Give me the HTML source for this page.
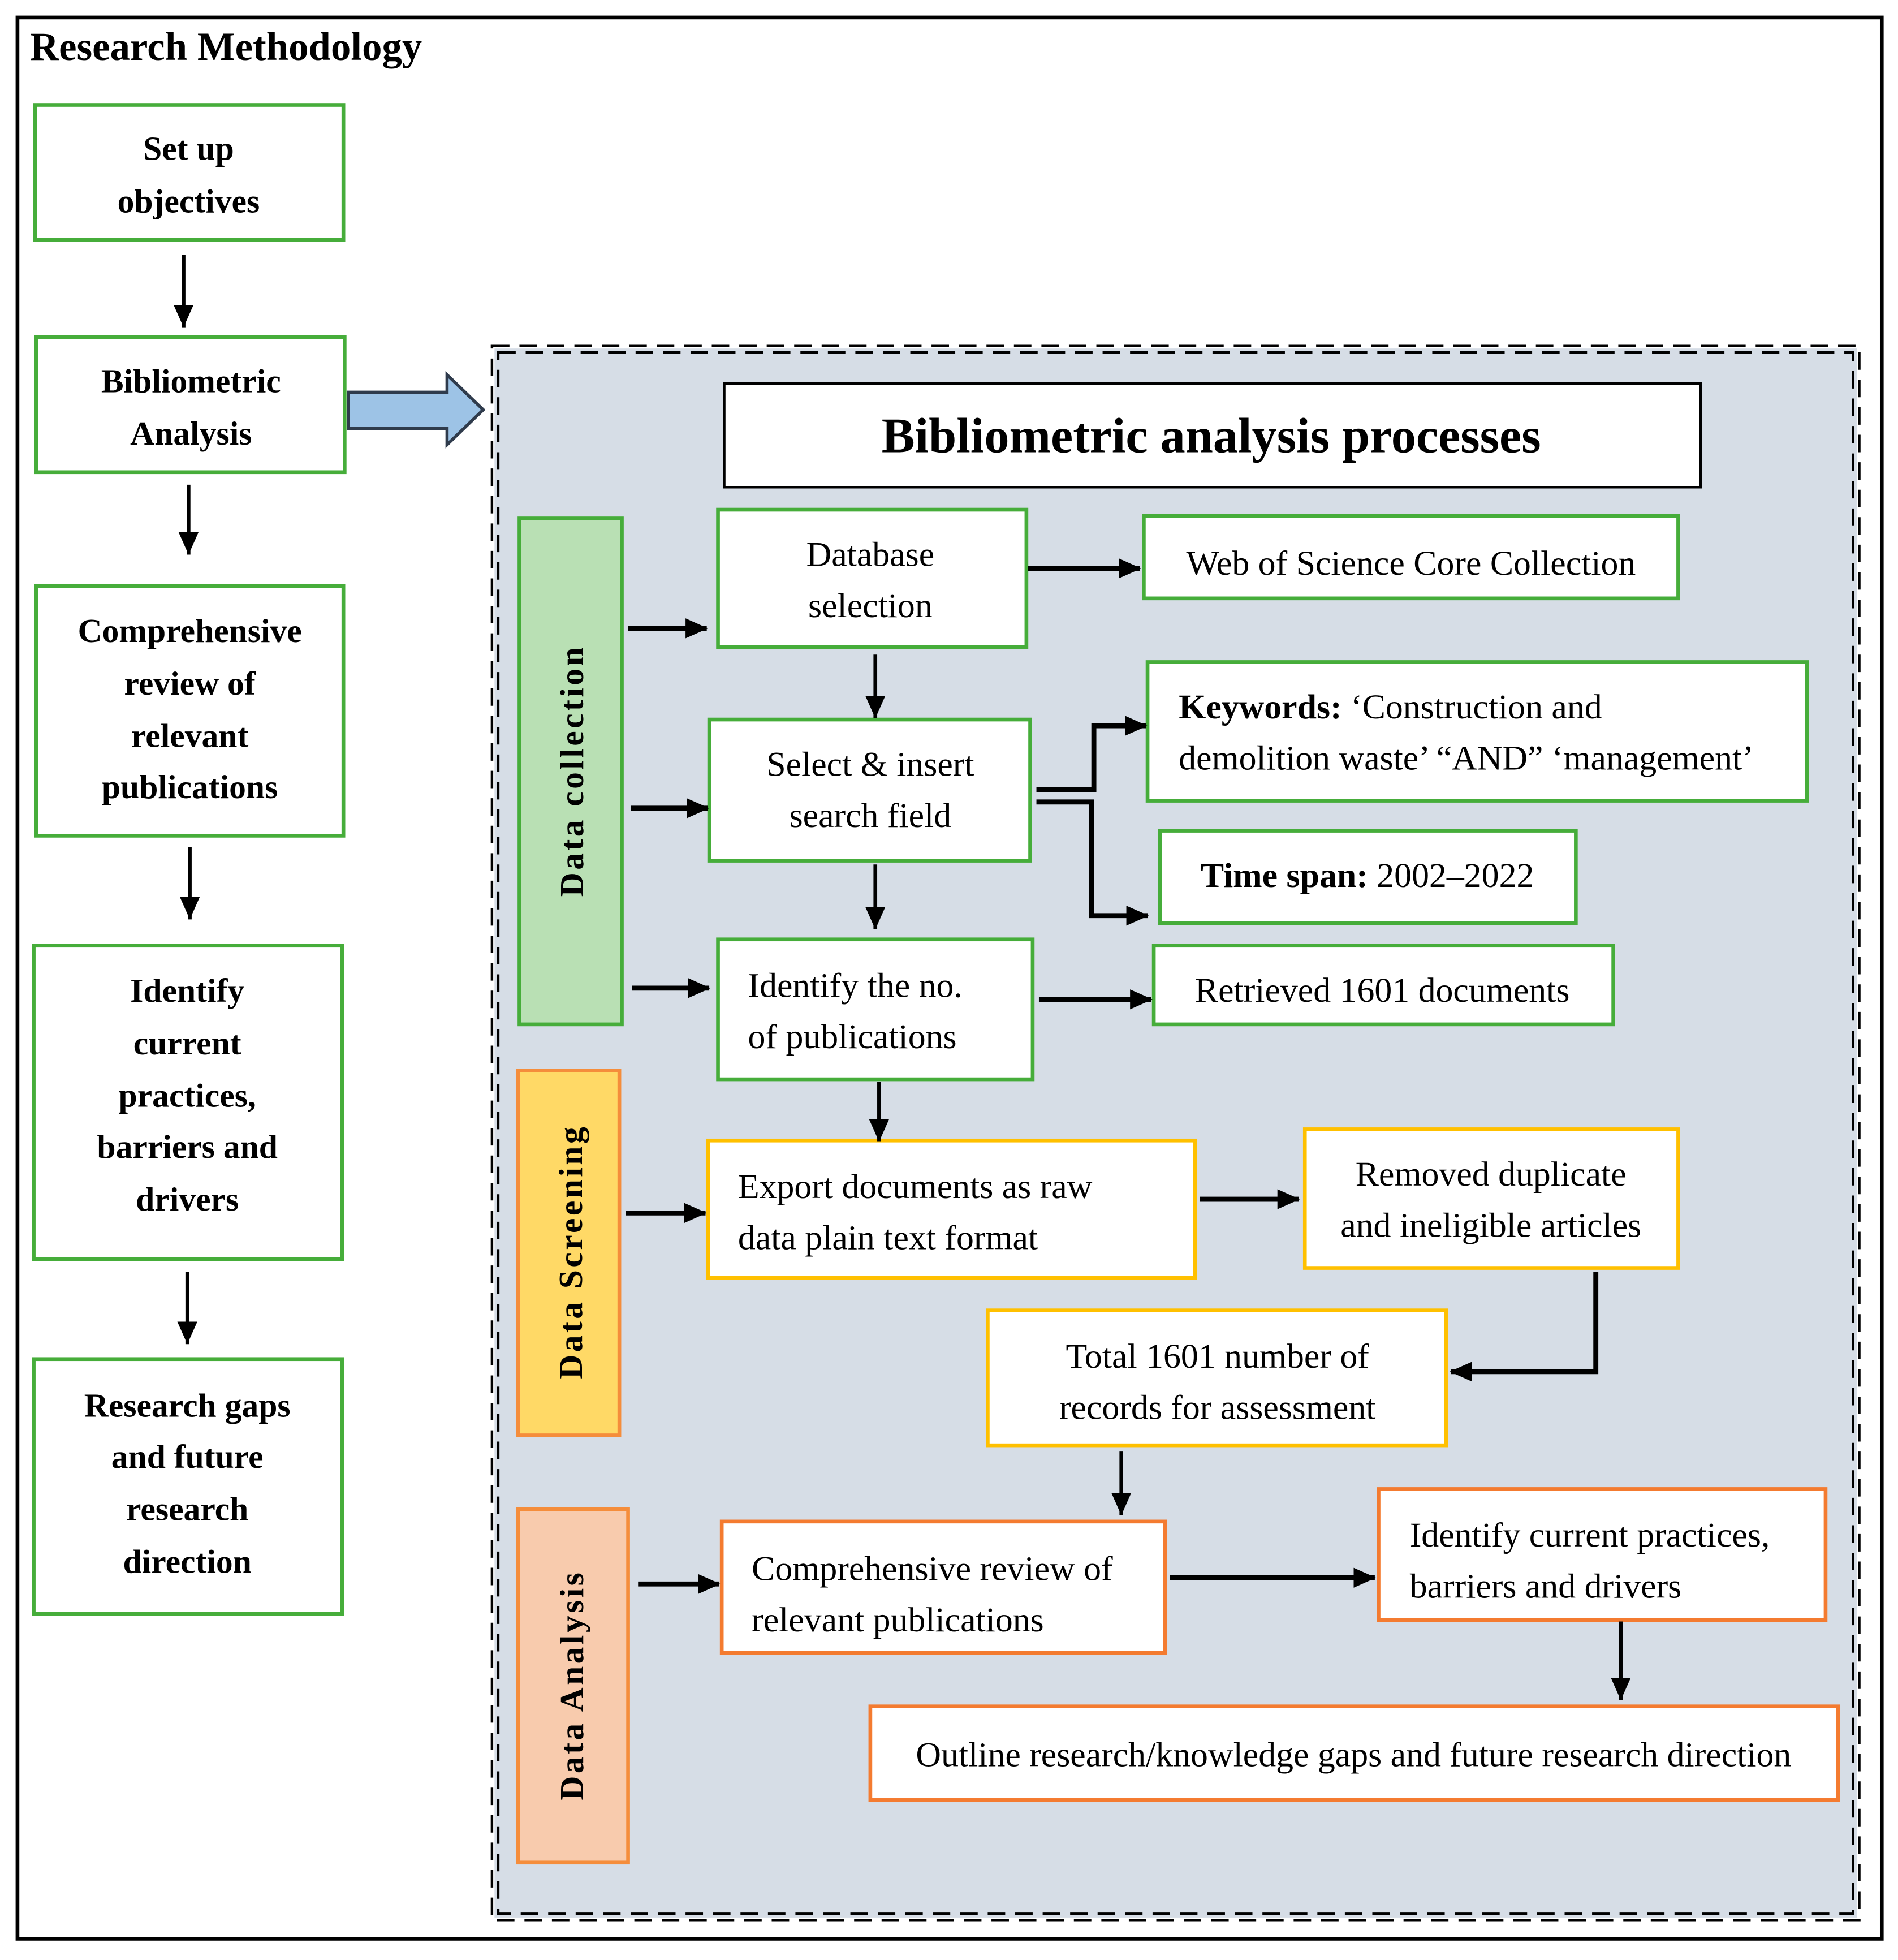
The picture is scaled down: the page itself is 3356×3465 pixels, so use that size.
<!DOCTYPE html>
<html><head><meta charset="utf-8"><style>html,body{margin:0;padding:0;background:#fff}svg{display:block}</style></head>
<body>
<svg xmlns="http://www.w3.org/2000/svg" width="3356" height="3465" viewBox="0 0 1520 1569" preserveAspectRatio="none" font-family="'Liberation Serif', serif">
<defs>
<marker id="a" markerWidth="18" markerHeight="16" refX="17" refY="8" orient="auto" markerUnits="userSpaceOnUse" viewBox="0 0 18 16"><path d="M0,0 L18,8 L0,16 z" fill="#000"/></marker>
<marker id="b" markerWidth="18" markerHeight="16" refX="18" refY="8" orient="auto" markerUnits="userSpaceOnUse" viewBox="0 0 18 16"><path d="M0,0 L18,8 L0,16 z" fill="#000"/></marker>
</defs>
<rect x="0" y="0" width="1520" height="1569" fill="#fff"/>
<rect x="14" y="14" width="1493" height="1538" fill="none" stroke="#000" stroke-width="3"/>
<text x="24" y="48" font-size="32" font-weight="bold" textLength="314">Research Methodology</text>

<g fill="#fff" stroke="#46ad3a" stroke-width="3">
<rect x="28" y="84" width="247" height="108"/>
<rect x="29" y="270" width="247" height="108"/>
<rect x="29" y="469" width="246" height="200"/>
<rect x="27" y="757" width="247" height="251"/>
<rect x="27" y="1088" width="247" height="204"/>
</g>
<g font-size="27" font-weight="bold" text-anchor="middle">
<text x="151" y="128">Set up</text><text x="151" y="170">objectives</text>
<text x="153" y="314">Bibliometric</text><text x="153" y="356">Analysis</text>
<text x="152" y="514">Comprehensive</text><text x="152" y="556">review of</text><text x="152" y="598">relevant</text><text x="152" y="639">publications</text>
<text x="150" y="802">Identify</text><text x="150" y="844">current</text><text x="150" y="886">practices,</text><text x="150" y="927">barriers and</text><text x="150" y="969">drivers</text>
<text x="150" y="1134">Research gaps</text><text x="150" y="1175">and future</text><text x="150" y="1217">research</text><text x="150" y="1259">direction</text>
</g>
<g stroke="#000" stroke-width="3" marker-end="url(#b)">
<line x1="147" y1="204" x2="147" y2="262"/>
<line x1="151" y1="388" x2="151" y2="444"/>
<line x1="152" y1="678" x2="152" y2="736"/>
<line x1="150" y1="1018" x2="150" y2="1076"/>
</g>
<path d="M279,314 L358,314 L358,300 L387,328 L358,356 L358,343 L279,343 z" fill="#9dc3e6" stroke="#2f3b4c" stroke-width="2.5"/>

<rect x="396" y="279" width="1091" height="1256" fill="#d6dde6"/>
<rect x="394" y="277" width="1095" height="1260" fill="none" stroke="#000" stroke-width="2" stroke-dasharray="14,8"/>
<rect x="399" y="282" width="1085" height="1250" fill="none" stroke="#000" stroke-width="2" stroke-dasharray="14,8"/>

<rect x="580" y="307" width="782" height="83" fill="#fff" stroke="#000" stroke-width="2"/>
<text x="970" y="362" font-size="40" font-weight="bold" text-anchor="middle">Bibliometric analysis processes</text>

<rect x="416" y="415" width="82" height="405" fill="#b9e0b4" stroke="#46ad3a" stroke-width="3"/>
<rect x="415" y="857" width="81" height="292" fill="#ffd966" stroke="#f58d3b" stroke-width="3"/>
<rect x="415" y="1208" width="88" height="283" fill="#f8cbad" stroke="#f58d3b" stroke-width="3"/>
<g font-size="27" font-weight="bold" text-anchor="middle" letter-spacing="2">
<text transform="translate(467,617) rotate(-90)">Data collection</text>
<text transform="translate(466,1002) rotate(-90)">Data Screening</text>
<text transform="translate(467,1349) rotate(-90)">Data Analysis</text>
</g>

<g fill="#fff" stroke-width="3">
<rect x="575" y="408" width="247" height="110" stroke="#46ad3a"/>
<rect x="916" y="413" width="428" height="66" stroke="#46ad3a"/>
<rect x="568" y="576" width="257" height="113" stroke="#46ad3a"/>
<rect x="919" y="530" width="528" height="111" stroke="#46ad3a"/>
<rect x="929" y="665" width="333" height="74" stroke="#46ad3a"/>
<rect x="575" y="752" width="252" height="112" stroke="#46ad3a"/>
<rect x="924" y="757" width="368" height="63" stroke="#46ad3a"/>
<rect x="567" y="913" width="390" height="110" stroke="#ffc000"/>
<rect x="1045" y="904" width="299" height="111" stroke="#ffc000"/>
<rect x="791" y="1049" width="367" height="108" stroke="#ffc000"/>
<rect x="578" y="1218" width="355" height="105" stroke="#f47b30"/>
<rect x="1104" y="1192" width="358" height="105" stroke="#f47b30"/>
<rect x="697" y="1366" width="775" height="75" stroke="#f47b30"/>
</g>
<g font-size="28">
<g text-anchor="middle">
<text x="697" y="453">Database</text><text x="697" y="494">selection</text>
<text x="1130" y="460">Web of Science Core Collection</text>
<text x="697" y="621">Select &amp; insert</text><text x="697" y="662">search field</text>
<text x="1095" y="710"><tspan font-weight="bold">Time span:</tspan> 2002–2022</text>
<text x="1107" y="802">Retrieved 1601 documents</text>
<text x="1194" y="949">Removed duplicate</text><text x="1194" y="990">and ineligible articles</text>
<text x="975" y="1095">Total 1601 number of</text><text x="975" y="1136">records for assessment</text>
<text x="1084" y="1414">Outline research/knowledge gaps and future research direction</text>
</g>
<text x="944" y="575"><tspan font-weight="bold">Keywords:</tspan> ‘Construction and</text>
<text x="944" y="616">demolition waste’ “AND” ‘management’</text>
<text x="599" y="798">Identify the no.</text><text x="599" y="839">of publications</text>
<text x="591" y="959">Export documents as raw</text><text x="591" y="1000">data plain text format</text>
<text x="602" y="1265">Comprehensive review of</text><text x="602" y="1306">relevant publications</text>
<text x="1129" y="1238">Identify current practices,</text><text x="1129" y="1279">barriers and drivers</text>
</g>

<g stroke="#000" stroke-width="4" fill="none" marker-end="url(#a)">
<line x1="503" y1="503" x2="566" y2="503"/>
<line x1="505" y1="647" x2="567" y2="647"/>
<line x1="506" y1="791" x2="568" y2="791"/>
<line x1="823" y1="455" x2="913" y2="455"/>
<line x1="832" y1="800" x2="922" y2="800"/>
<line x1="501" y1="971" x2="565" y2="971"/>
<line x1="961" y1="960" x2="1040" y2="960"/>
<polyline points="1278,1018 1278,1098 1162,1098"/>
<line x1="511" y1="1268" x2="576" y2="1268"/>
<line x1="937" y1="1263" x2="1101" y2="1263"/>
<polyline points="830,632 876,632 876,581 918,581"/>
<polyline points="830,642 874,642 874,733 919,733"/>
</g>
<g stroke="#000" stroke-width="3" marker-end="url(#b)">
<line x1="701" y1="524" x2="701" y2="575"/>
<line x1="701" y1="692" x2="701" y2="744"/>
<line x1="704" y1="866" x2="704" y2="914"/>
<line x1="898" y1="1162" x2="898" y2="1213"/>
<line x1="1298" y1="1298" x2="1298" y2="1361"/>
</g>
</svg>
</body></html>
